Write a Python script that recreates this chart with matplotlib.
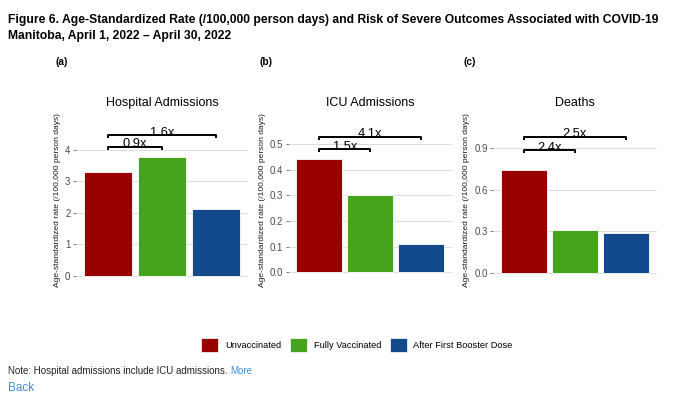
import numpy as np
import matplotlib.pyplot as plt
from matplotlib.patches import Patch

plt.rcParams['font.family'] = ['Liberation Sans', 'DejaVu Sans']

# ---------------------------------------- data ---------------------------------------- #

groups = ['Unvaccinated', 'Fully Vaccinated', 'After First Booster Dose']
colors = ['#990000', '#45A41C', '#124A8C']

panel_titles = ['Hospital Admissions', 'ICU Admissions', 'Deaths']
panel_letters = ['(a)', '(b)', '(c)']

hospital = [3.31, 3.77, 2.12]
icu = [0.44, 0.30, 0.11]
deaths = [0.74, 0.31, 0.29]

# risk ratio brackets: (from group, to group, y level, label)
hospital_brackets = [(0, 1, 4.10, '0.9x'), (0, 2, 4.48, '1.6x')]
icu_brackets = [(0, 1, 0.479, '1.5x'), (0, 2, 0.528, '4.1x')]
deaths_brackets = [(0, 1, 0.887, '2.4x'), (0, 2, 0.983, '2.5x')]

hospital_ticks = [0, 1, 2, 3, 4]
icu_ticks = [0.0, 0.1, 0.2, 0.3, 0.4, 0.5]
deaths_ticks = [0.0, 0.3, 0.6, 0.9]

# ---------------------------------------- layout ---------------------------------------- #

W, H = 676, 398
fig = plt.figure(figsize=(W / 100, H / 100), dpi=100)

ax_bottom = 283
ax_top = 117
ax_lr = [(76, 248), (288.6, 452), (493.3, 656.6)]
ylims = [(-0.232, 5.05), (-0.0417, 0.605), (-0.072, 1.125)]
tick_fmt = ['{:.0f}', '{:.1f}', '{:.1f}']
letter_x = [55, 260, 463]

panels = [
    (hospital, hospital_brackets, hospital_ticks),
    (icu, icu_brackets, icu_ticks),
    (deaths, deaths_brackets, deaths_ticks),
]

x = np.arange(len(groups))

for i, (vals, brackets, ticks) in enumerate(panels):
    l, r = ax_lr[i]
    ax = fig.add_axes([l / W, 1 - ax_bottom / H, (r - l) / W, (ax_bottom - ax_top) / H])
    ax.bar(x, vals, width=0.9, color=colors, edgecolor='white', linewidth=0.6, zorder=2)
    ax.set_xlim(-0.6, 2.6)
    ax.set_ylim(*ylims[i])
    ax.set_yticks(ticks)
    ax.set_yticklabels([tick_fmt[i].format(t) for t in ticks])
    ax.set_xticks([])
    ax.grid(axis='y', color='#DDDDDD', linewidth=0.8, zorder=0)
    for s in ax.spines.values():
        s.set_visible(False)
    ax.tick_params(axis='y', length=2.5, width=0.6, color='#666666', labelcolor='#4D4D4D',
                   labelsize=7, pad=1.5)
    ax.set_ylabel('Age-standardized rate (/100,000 person days)', fontsize=6.1, color='#1a1a1a',
                  labelpad=3)

    # brackets
    lo, hi = ylims[i]
    d = (hi - lo) * 3.0 / (ax_bottom - ax_top)
    for g1, g2, yb, lab in brackets:
        ax.plot([x[g1], x[g1], x[g2], x[g2]], [yb - d, yb, yb, yb - d], color='black',
                linewidth=1.4, solid_capstyle='butt', zorder=3, clip_on=False)
        ax.text((x[g1] + x[g2]) / 2, yb - d * 0.2, lab, ha='center', va='baseline',
                fontsize=9.3, color='black', zorder=4)

    fig.text((l + r) / 2 / W, 1 - 103 / H, panel_titles[i], ha='center', va='center',
             fontsize=9)
    fig.text(letter_x[i] / W, 1 - 62 / H, panel_letters[i], ha='left', va='center',
             fontsize=7.3, fontweight='bold')

# ---------------------------------------- text ---------------------------------------- #

fig.text(8 / W, 1 - 19.5 / H,
         'Figure 6. Age-Standardized Rate (/100,000 person days) and Risk of Severe Outcomes '
         'Associated with COVID-19', ha='left', va='center', fontsize=8.7, fontweight='bold')
fig.text(8 / W, 1 - 35.5 / H, 'Manitoba, April 1, 2022 \u2013 April 30, 2022', ha='left',
         va='center', fontsize=8.7, fontweight='bold')

handles = [Patch(facecolor=c, edgecolor='white', linewidth=0.5) for c in colors]
fig.legend(handles, groups, loc='center', bbox_to_anchor=(357 / W, 1 - 345 / H), ncol=3,
           frameon=False, fontsize=6.7, handlelength=1.85, handleheight=1.85,
           handletextpad=0.7, columnspacing=0.95, borderpad=0)

note = fig.text(8 / W, 1 - 371 / H, 'Note: Hospital admissions include ICU admissions. ',
                ha='left', va='center', fontsize=7, color='#222222')
fig.canvas.draw()
bb = note.get_window_extent()
fig.text(bb.x1 / W, 1 - 371 / H, 'More', ha='left', va='center', fontsize=7, color='#3F8FD8')
fig.text(8 / W, 1 - 388 / H, 'Back', ha='left', va='center', fontsize=8.5, color='#3F8FD8')

fig.savefig('out.png', dpi=100, facecolor='white')
